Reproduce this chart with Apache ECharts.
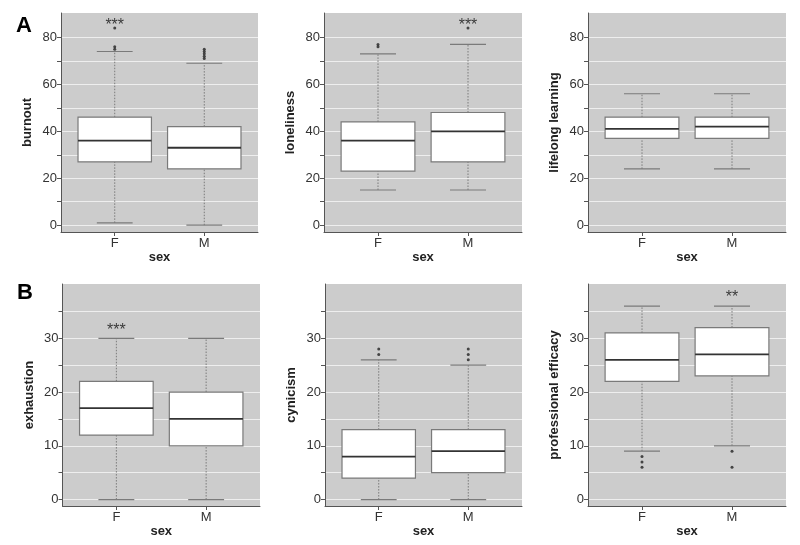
<!DOCTYPE html>
<html>
<head>
<meta charset="utf-8">
<script src="https://cdn.jsdelivr.net/npm/echarts@6/dist/echarts.min.js"></script>
<style>
  html, body { margin: 0; padding: 0; background: #fff; }
  #chart { width: 800px; height: 545px; }
</style>
</head>
<body>
<div id="chart"></div>
<script>
// categories on the x axis of every panel
const categories = ['F', 'M'];

// box stats per sex: [lower whisker, Q1, median, Q3, upper whisker]
const burnoutBox = [[1, 27, 36, 46, 74], [0, 24, 33, 42, 69]];
const lonelinessBox = [[15, 23, 36, 44, 73], [15, 27, 40, 48, 77]];
const lifelongBox = [[24, 37, 41, 46, 56], [24, 37, 42, 46, 56]];
const exhaustionBox = [[0, 12, 17, 22, 30], [0, 10, 15, 20, 30]];
const cynicismBox = [[0, 4, 8, 13, 26], [0, 5, 9, 13, 25]];
const efficacyBox = [[9, 22, 26, 31, 36], [10, 23, 27, 32, 36]];

// outliers: [category index, value]
const burnoutOut = [[0, 75], [0, 76], [0, 84], [1, 71], [1, 72], [1, 73], [1, 74], [1, 75]];
const lonelinessOut = [[0, 76], [0, 77], [1, 84]];
const lifelongOut = [];
const exhaustionOut = [];
const cynicismOut = [[0, 27], [0, 28], [1, 26], [1, 27], [1, 28]];
const efficacyOut = [[0, 6], [0, 7], [0, 8], [1, 6], [1, 9]];

// significance marks: [category index, value, text]
const burnoutStars = [[0, 85, '***']];
const lonelinessStars = [[1, 85, '***']];
const lifelongStars = [];
const exhaustionStars = [[0, 31.5, '***']];
const cynicismStars = [];
const efficacyStars = [[1, 37.6, '**']];

// y ticks
const topTicks = [0, 10, 20, 30, 40, 50, 60, 70, 80];
const topLabels = [0, 20, 40, 60, 80];
const botTicks = [0, 5, 10, 15, 20, 25, 30, 35];
const botLabels = [0, 10, 20, 30];

const panels = [
  { name: 'burnout', box: burnoutBox, out: burnoutOut, stars: burnoutStars, row: 0 },
  { name: 'loneliness', box: lonelinessBox, out: lonelinessOut, stars: lonelinessStars, row: 0 },
  { name: 'lifelong learning', box: lifelongBox, out: lifelongOut, stars: lifelongStars, row: 0 },
  { name: 'exhaustion', box: exhaustionBox, out: exhaustionOut, stars: exhaustionStars, row: 1 },
  { name: 'cynicism', box: cynicismBox, out: cynicismOut, stars: cynicismStars, row: 1 },
  { name: 'professional efficacy', box: efficacyBox, out: efficacyOut, stars: efficacyStars, row: 1 }
];

const lefts = [[61, 324, 588], [62.5, 325, 588]];
const widths = [[197, 198, 198], [197.5, 197, 198]];
const tops = [13, 284];
const heights = [219, 222];

const font = 'Liberation Sans, Arial, Helvetica, sans-serif';
const boxLine = '#7a7a7a';

function renderBox(params, api) {
  const x = api.value(0);
  const lo = api.coord([x, api.value(1)]);
  const q1 = api.coord([x, api.value(2)]);
  const md = api.coord([x, api.value(3)]);
  const q3 = api.coord([x, api.value(4)]);
  const hi = api.coord([x, api.value(5)]);
  const hb = api.size([0.41, 0])[0];
  const hc = api.size([0.2, 0])[0];
  const cx = lo[0];
  const dotted = { stroke: boxLine, lineWidth: 1, lineDash: [1.5, 1.5] };
  const solid = { stroke: boxLine, lineWidth: 1.2 };
  return {
    type: 'group',
    children: [
      { type: 'line', shape: { x1: cx, y1: lo[1], x2: cx, y2: q1[1] }, style: dotted },
      { type: 'line', shape: { x1: cx, y1: q3[1], x2: cx, y2: hi[1] }, style: dotted },
      { type: 'line', shape: { x1: cx - hc, y1: lo[1], x2: cx + hc, y2: lo[1] }, style: solid },
      { type: 'line', shape: { x1: cx - hc, y1: hi[1], x2: cx + hc, y2: hi[1] }, style: solid },
      { type: 'rect', shape: { x: cx - hb, y: q3[1], width: hb * 2, height: q1[1] - q3[1] },
        style: { fill: '#ffffff', stroke: boxLine, lineWidth: 1.2 } },
      { type: 'line', shape: { x1: cx - hb, y1: md[1], x2: cx + hb, y2: md[1] },
        style: { stroke: '#333333', lineWidth: 1.8 } }
    ]
  };
}

const grid = [], xAxis = [], yAxis = [], series = [];
panels.forEach(function (p, i) {
  const col = i % 3;
  const top = p.row === 0;
  grid.push({
    left: lefts[p.row][col], top: tops[p.row],
    width: widths[p.row][col], height: heights[p.row],
    show: true, backgroundColor: '#cccccc', borderWidth: 0
  });
  xAxis.push({
    type: 'value', gridIndex: i, min: 0.4, max: 2.6,
    name: 'sex', nameLocation: 'middle', nameGap: 11,
    nameTextStyle: { fontFamily: font, fontWeight: 'bold', fontSize: 13, color: '#222' },
    axisLine: { onZero: false, lineStyle: { color: '#555', width: 1 } },
    axisTick: { customValues: [1, 2], length: 4, lineStyle: { color: '#555' } },
    axisLabel: {
      customValues: [1, 2], margin: 5, fontFamily: font, fontSize: 13, color: '#333',
      formatter: function (v) { return categories[Math.round(v) - 1]; }
    },
    splitLine: { show: false }
  });
  yAxis.push({
    type: 'value', gridIndex: i,
    min: top ? -2.9 : -1.2, max: top ? 90.4 : 40.1,
    name: p.name, nameLocation: 'middle', nameGap: 27,
    nameTextStyle: { fontFamily: font, fontWeight: 'bold', fontSize: 13, color: '#222' },
    axisLine: { show: true, onZero: false, lineStyle: { color: '#555', width: 1 } },
    axisTick: { customValues: top ? topTicks : botTicks, length: 4, lineStyle: { color: '#555' } },
    axisLabel: {
      customValues: top ? topLabels : botLabels, margin: 4,
      fontFamily: font, fontSize: 13, color: '#333'
    },
    splitLine: { show: true, lineStyle: { color: '#eeeeee', width: 1.2 } }
  });
  series.push({
    type: 'custom', xAxisIndex: i, yAxisIndex: i, renderItem: renderBox,
    data: p.box.map(function (b, k) { return [k + 1].concat(b); }),
    silent: true, z: 3
  });
  series.push({
    type: 'scatter', xAxisIndex: i, yAxisIndex: i, symbolSize: 3, silent: true, z: 4,
    itemStyle: { color: '#222' },
    data: p.out.map(function (o) { return [o[0] + 1, o[1]]; })
  });
  series.push({
    type: 'scatter', xAxisIndex: i, yAxisIndex: i, symbolSize: 0, silent: true, z: 5,
    data: p.stars.map(function (s) { return [s[0] + 1, s[1], s[2]]; }),
    label: {
      show: true, position: 'inside', fontFamily: font, fontSize: 16, color: '#111',
      formatter: function (q) { return q.data[2]; }
    }
  });
});

const chart = echarts.init(document.getElementById('chart'), null, { renderer: 'canvas' });
chart.setOption({
  animation: false,
  backgroundColor: '#ffffff',
  title: [
    { text: 'A', left: 11, top: 10, textStyle: { fontFamily: font, fontSize: 22, fontWeight: 'bold', color: '#000' } },
    { text: 'B', left: 12, top: 277, textStyle: { fontFamily: font, fontSize: 22, fontWeight: 'bold', color: '#000' } }
  ],
  grid: grid,
  xAxis: xAxis,
  yAxis: yAxis,
  series: series
});
</script>
</body>
</html>
